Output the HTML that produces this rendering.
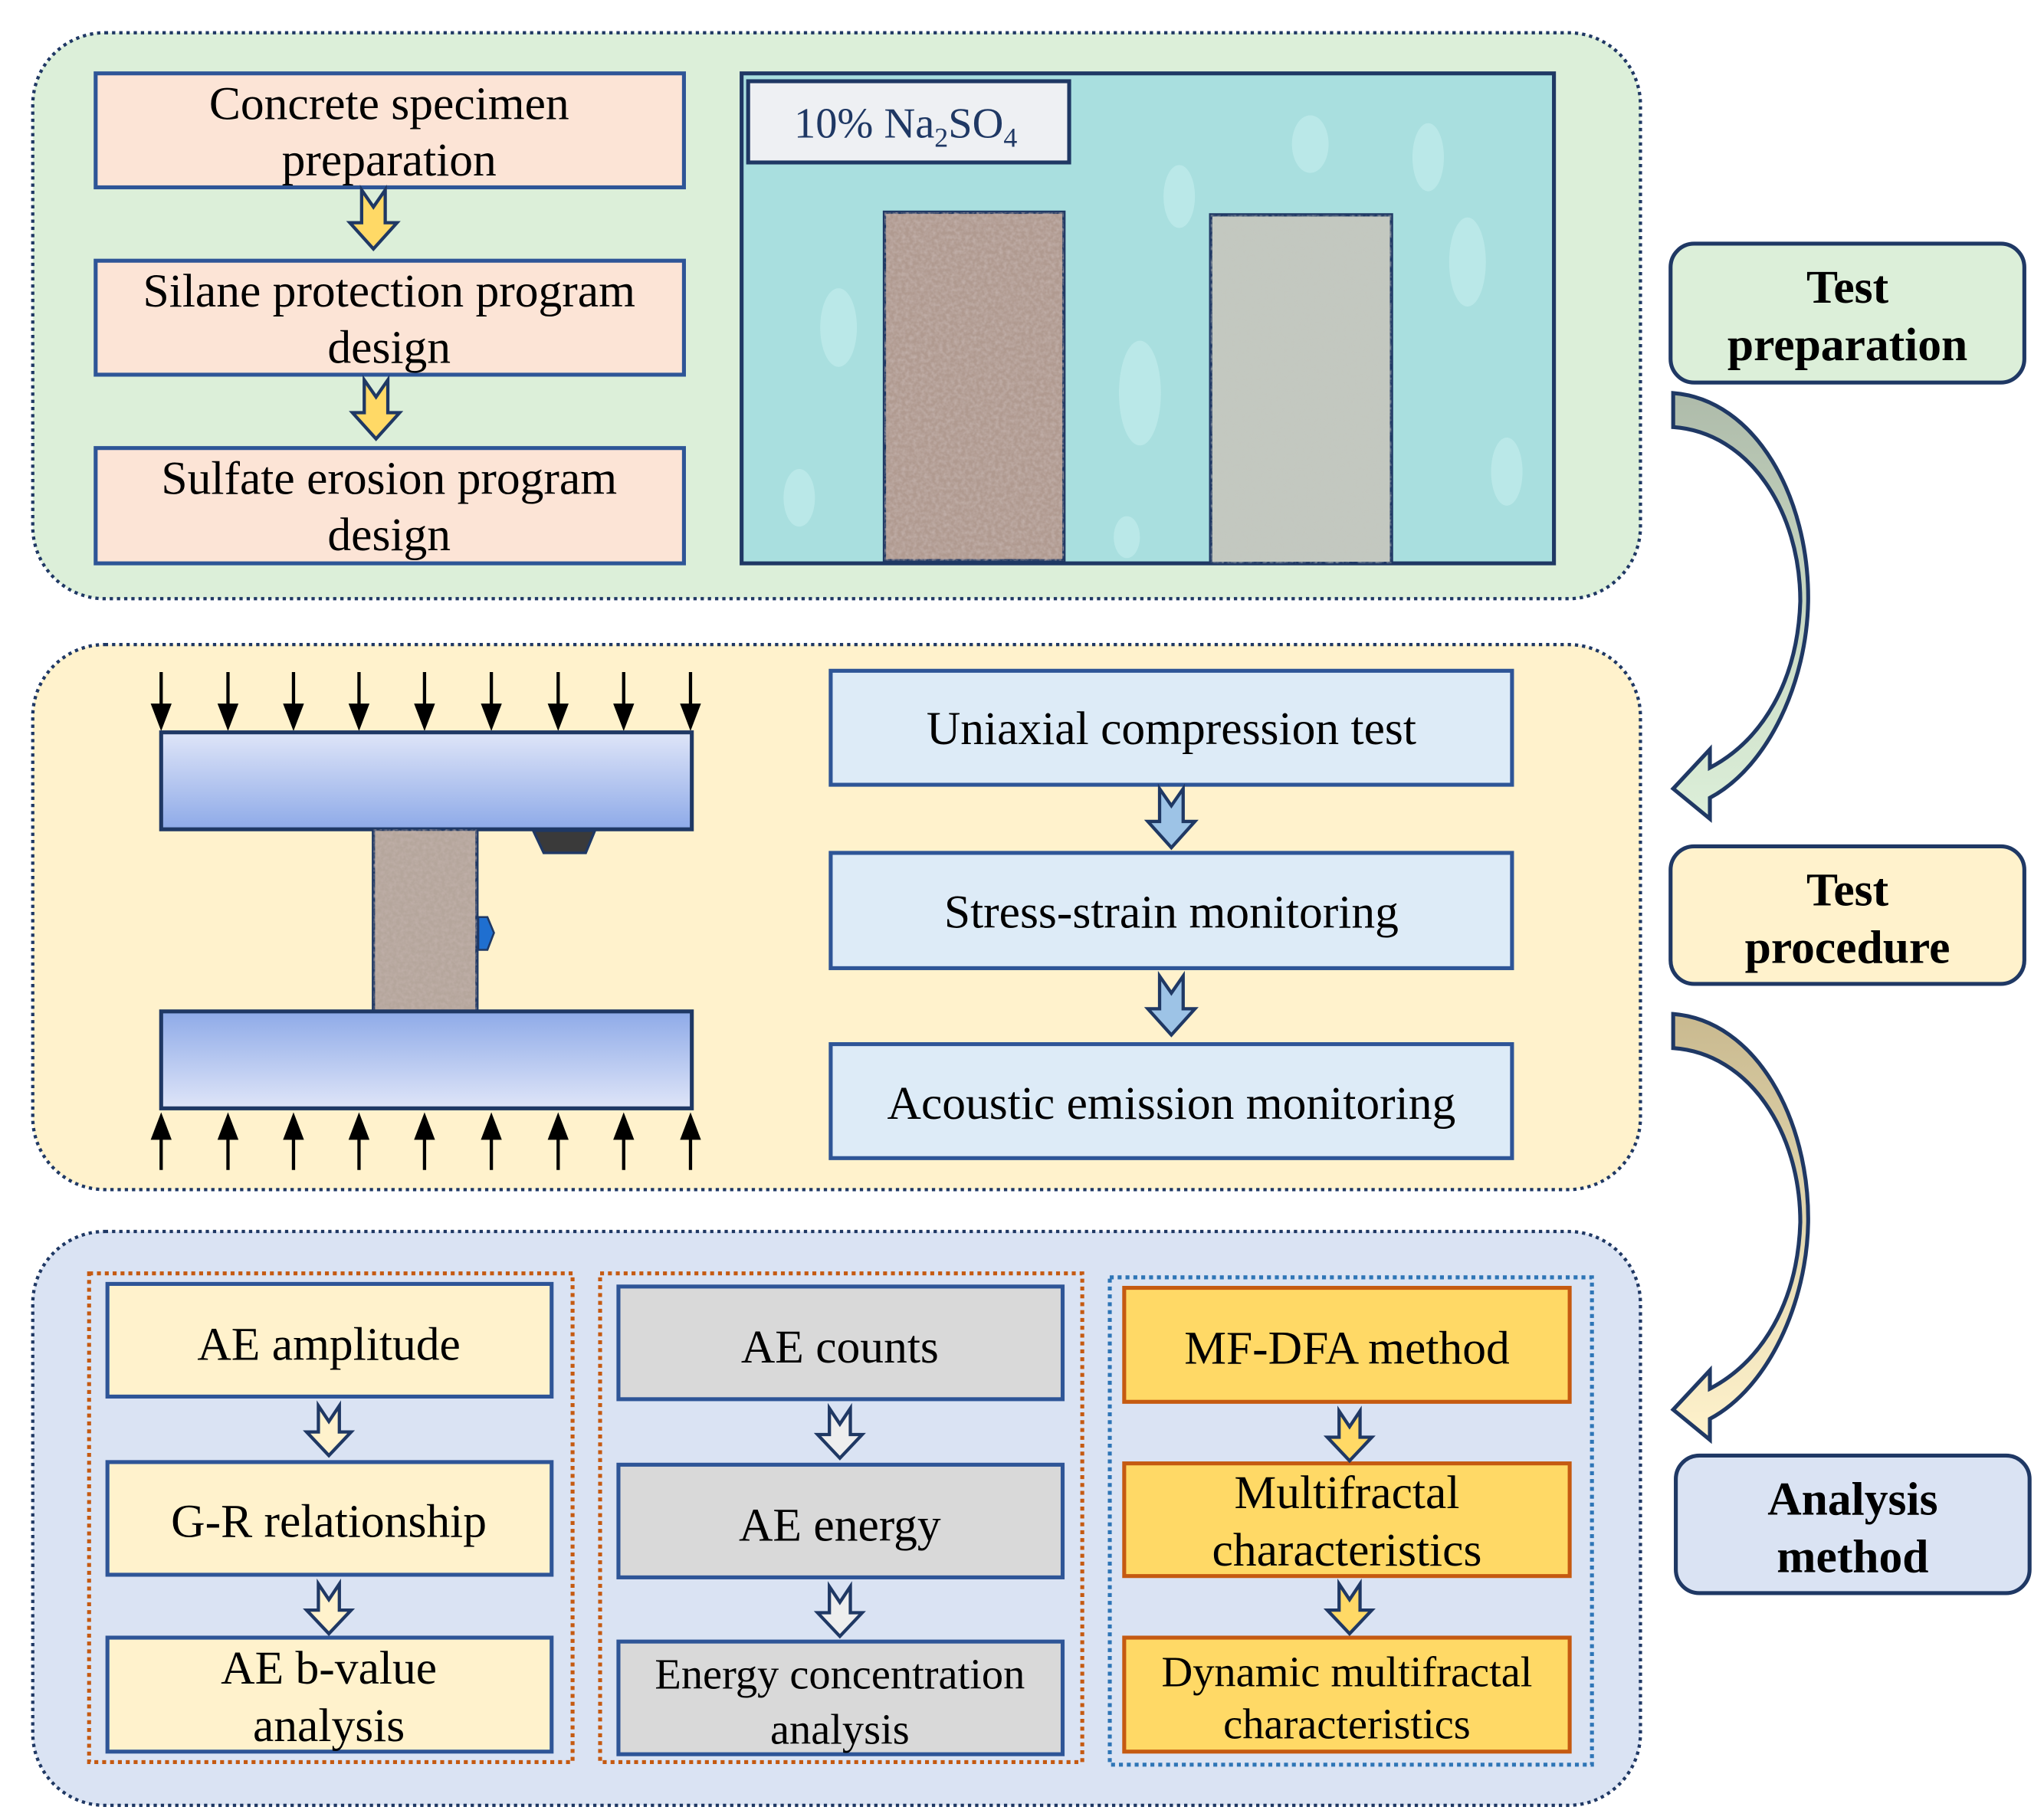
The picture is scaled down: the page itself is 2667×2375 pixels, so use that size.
<!DOCTYPE html>
<html><head><meta charset="utf-8"><style>html,body{margin:0;padding:0;background:#fff}svg{display:block}</style></head>
<body>
<svg width="2667" height="2375" viewBox="0 0 1560 1389.2" preserveAspectRatio="none" xmlns="http://www.w3.org/2000/svg" font-family="Liberation Serif, serif">
<defs>
<linearGradient id="pt" x1="0" y1="0" x2="0" y2="1"><stop offset="0" stop-color="#dfe5f8"/><stop offset="1" stop-color="#8eaae8"/></linearGradient>
<linearGradient id="pb" x1="0" y1="0" x2="0" y2="1"><stop offset="0" stop-color="#8eaae8"/><stop offset="1" stop-color="#dfe5f8"/></linearGradient>
<linearGradient id="ca1" x1="0" y1="0" x2="0" y2="1"><stop offset="0" stop-color="#aebbaa"/><stop offset="0.5" stop-color="#c8d8c2"/><stop offset="1" stop-color="#dcefd9"/></linearGradient>
<linearGradient id="ca2" x1="0" y1="0" x2="0" y2="1"><stop offset="0" stop-color="#c9b98f"/><stop offset="0.5" stop-color="#e3d8b0"/><stop offset="1" stop-color="#fff2cc"/></linearGradient>
<filter id="tex1" x="0" y="0" width="1" height="1"><feTurbulence type="fractalNoise" baseFrequency="0.35" numOctaves="2" seed="3"/><feColorMatrix type="matrix" values="0 0 0 0 0.55  0 0 0 0 0.45  0 0 0 0 0.42  0 0 0 -1.6 1.1"/><feComposite in2="SourceGraphic" operator="in"/></filter>
<filter id="tex2" x="0" y="0" width="1" height="1"><feTurbulence type="fractalNoise" baseFrequency="0.35" numOctaves="2" seed="7"/><feColorMatrix type="matrix" values="0 0 0 0 0.55  0 0 0 0 0.57  0 0 0 0 0.52  0 0 0 -1.6 1.1"/><feComposite in2="SourceGraphic" operator="in"/></filter>
</defs>

<!-- Panel 1 -->
<rect x="25" y="25" width="1227" height="432" rx="55" fill="#dcefd9" stroke="#1f3864" stroke-width="2.5" stroke-dasharray="2.5 3"/>
<g fill="#fce4d6" stroke="#2e5597" stroke-width="3">
<rect x="73" y="56" width="449" height="87"/>
<rect x="73" y="199" width="449" height="87"/>
<rect x="73" y="342" width="449" height="88"/>
</g>
<g font-size="36" text-anchor="middle" fill="#000">
<text x="297" y="91">Concrete specimen</text><text x="297" y="134">preparation</text>
<text x="297" y="234">Silane protection program</text><text x="297" y="277">design</text>
<text x="297" y="377">Sulfate erosion program</text><text x="297" y="420">design</text>
</g>
<g fill="#ffd966" stroke="#1f3864" stroke-width="2.5" stroke-linejoin="miter">
<path d="M276,145 L285,158 L294,145 L294,170 L303,170 L285,190 L267,170 L276,170 Z"/>
<path d="M278,290 L287,303 L296,290 L296,315 L305,315 L287,335 L269,315 L278,315 Z"/>
</g>
<!-- water image -->
<rect x="566" y="56" width="620" height="374" fill="#a9dfdf" stroke="#1f3864" stroke-width="3"/>
<g fill="#c6eeee" opacity="0.6">
<ellipse cx="640" cy="250" rx="14" ry="30"/><ellipse cx="870" cy="300" rx="16" ry="40"/><ellipse cx="1120" cy="200" rx="14" ry="34"/>
<ellipse cx="1150" cy="360" rx="12" ry="26"/><ellipse cx="900" cy="150" rx="12" ry="24"/><ellipse cx="610" cy="380" rx="12" ry="22"/>
<ellipse cx="1000" cy="110" rx="14" ry="22"/><ellipse cx="1090" cy="120" rx="12" ry="26"/><ellipse cx="860" cy="410" rx="10" ry="16"/>
</g>
<rect x="571" y="62" width="245" height="62" fill="#eef0f3" stroke="#1f3864" stroke-width="3"/>
<text x="606" y="105" font-size="33" fill="#1f3864">10% Na<tspan font-size="21" dy="7">2</tspan><tspan dy="-7">SO</tspan><tspan font-size="21" dy="7">4</tspan></text>
<rect x="675" y="162" width="137" height="266" fill="#b09a90" stroke="#1f3864" stroke-width="2.5"/>
<rect x="675" y="162" width="137" height="266" fill="#fff" filter="url(#tex1)" opacity="0.9"/>
<rect x="924" y="164" width="138" height="266" fill="#c3c8c0" stroke="#1f3864" stroke-width="2.5"/>
<rect x="924" y="164" width="138" height="266" fill="#fff" filter="url(#tex2)" opacity="0.7"/>

<!-- Side labels -->
<rect x="1275" y="186" width="270" height="106" rx="18" fill="#dcefd9" stroke="#1f3864" stroke-width="3"/>
<text x="1410" y="231" font-size="36" font-weight="bold" text-anchor="middle">Test</text>
<text x="1410" y="275" font-size="36" font-weight="bold" text-anchor="middle">preparation</text>
<rect x="1275" y="646" width="270" height="105" rx="18" fill="#fff2cc" stroke="#1f3864" stroke-width="3"/>
<text x="1410" y="691" font-size="36" font-weight="bold" text-anchor="middle">Test</text>
<text x="1410" y="735" font-size="36" font-weight="bold" text-anchor="middle">procedure</text>
<rect x="1279" y="1111" width="270" height="105" rx="18" fill="#dae3f3" stroke="#1f3864" stroke-width="3"/>
<text x="1414" y="1156" font-size="36" font-weight="bold" text-anchor="middle">Analysis</text>
<text x="1414" y="1200" font-size="36" font-weight="bold" text-anchor="middle">method</text>

<!-- curved arrows -->
<path d="M1277,300 C1340,305 1381,380 1380,459 C1379,520 1350,585 1305,609 L1305,625 L1277,602 L1305,572 L1305,586 C1345,565 1372,520 1374,459 C1374,390 1335,330 1277,326 Z" fill="url(#ca1)" stroke="#1f3864" stroke-width="3" stroke-linejoin="miter"/>
<path transform="translate(0,474)" d="M1277,300 C1340,305 1381,380 1380,459 C1379,520 1350,585 1305,609 L1305,625 L1277,602 L1305,572 L1305,586 C1345,565 1372,520 1374,459 C1374,390 1335,330 1277,326 Z" fill="url(#ca2)" stroke="#1f3864" stroke-width="3" stroke-linejoin="miter"/>

<!-- Panel 2 -->
<rect x="25" y="492" width="1227" height="416" rx="55" fill="#fff2cc" stroke="#1f3864" stroke-width="2.5" stroke-dasharray="2.5 3"/>
<g stroke="#000" stroke-width="2.5">
<line x1="123" y1="513" x2="123" y2="540"/><line x1="174" y1="513" x2="174" y2="540"/><line x1="224" y1="513" x2="224" y2="540"/>
<line x1="274" y1="513" x2="274" y2="540"/><line x1="324" y1="513" x2="324" y2="540"/><line x1="375" y1="513" x2="375" y2="540"/>
<line x1="426" y1="513" x2="426" y2="540"/><line x1="476" y1="513" x2="476" y2="540"/><line x1="527" y1="513" x2="527" y2="540"/>
<line x1="123" y1="866" x2="123" y2="893"/><line x1="174" y1="866" x2="174" y2="893"/><line x1="224" y1="866" x2="224" y2="893"/>
<line x1="274" y1="866" x2="274" y2="893"/><line x1="324" y1="866" x2="324" y2="893"/><line x1="375" y1="866" x2="375" y2="893"/>
<line x1="426" y1="866" x2="426" y2="893"/><line x1="476" y1="866" x2="476" y2="893"/><line x1="527" y1="866" x2="527" y2="893"/>
</g>
<g fill="#000">
<path d="M115,537 L131,537 L123,558 Z"/><path d="M166,537 L182,537 L174,558 Z"/><path d="M216,537 L232,537 L224,558 Z"/>
<path d="M266,537 L282,537 L274,558 Z"/><path d="M316,537 L332,537 L324,558 Z"/><path d="M367,537 L383,537 L375,558 Z"/>
<path d="M418,537 L434,537 L426,558 Z"/><path d="M468,537 L484,537 L476,558 Z"/><path d="M519,537 L535,537 L527,558 Z"/>
<path d="M115,870 L131,870 L123,849 Z"/><path d="M166,870 L182,870 L174,849 Z"/><path d="M216,870 L232,870 L224,849 Z"/>
<path d="M266,870 L282,870 L274,849 Z"/><path d="M316,870 L332,870 L324,849 Z"/><path d="M367,870 L383,870 L375,849 Z"/>
<path d="M418,870 L434,870 L426,849 Z"/><path d="M468,870 L484,870 L476,849 Z"/><path d="M519,870 L535,870 L527,849 Z"/>
</g>
<rect x="123" y="559" width="405" height="74" fill="url(#pt)" stroke="#1f3864" stroke-width="3"/>
<rect x="285" y="633" width="79" height="139" fill="#b5a69c" stroke="#1f3864" stroke-width="2.5"/>
<rect x="285" y="633" width="79" height="139" fill="#fff" filter="url(#tex1)" opacity="0.8"/>
<rect x="123" y="772" width="405" height="74" fill="url(#pb)" stroke="#1f3864" stroke-width="3"/>
<path d="M407,634 L454,634 L447,651 L415,651 Z" fill="#3a3a3a" stroke="#1f3864" stroke-width="2"/>
<path d="M365,700 L372,700 L377,712 L372,725 L365,725 Z" fill="#1f6fd0" stroke="#1f3864" stroke-width="1.5"/>

<g fill="#ddebf7" stroke="#2e5597" stroke-width="3">
<rect x="634" y="512" width="520" height="87"/>
<rect x="634" y="651" width="520" height="88"/>
<rect x="634" y="797" width="520" height="87"/>
</g>
<g font-size="36" text-anchor="middle">
<text x="894" y="568">Uniaxial compression test</text>
<text x="894" y="708">Stress-strain monitoring</text>
<text x="894" y="854">Acoustic emission monitoring</text>
</g>
<g fill="#9dc3e6" stroke="#1f3864" stroke-width="2.5">
<path d="M885,602 L894,615 L903,602 L903,627 L912,627 L894,647 L876,627 L885,627 Z"/>
<path d="M885,745 L894,758 L903,745 L903,770 L912,770 L894,790 L876,770 L885,770 Z"/>
</g>

<!-- Panel 3 -->
<rect x="25" y="940" width="1227" height="438" rx="55" fill="#dae3f3" stroke="#1f3864" stroke-width="2.5" stroke-dasharray="2.5 3"/>
<rect x="68" y="972" width="369" height="373" fill="none" stroke="#c55a11" stroke-width="3" stroke-dasharray="3 3"/>
<rect x="458" y="972" width="368" height="373" fill="none" stroke="#c55a11" stroke-width="3" stroke-dasharray="3 3"/>
<rect x="847" y="975" width="368" height="372" fill="none" stroke="#2e75b6" stroke-width="3" stroke-dasharray="3 3"/>
<g fill="#fff2cc" stroke="#2e5597" stroke-width="3">
<rect x="82" y="980" width="339" height="86"/><rect x="82" y="1116" width="339" height="86"/><rect x="82" y="1250" width="339" height="87"/>
</g>
<g fill="#d9d9d9" stroke="#2e5597" stroke-width="3">
<rect x="472" y="982" width="339" height="86"/><rect x="472" y="1118" width="339" height="86"/><rect x="472" y="1253" width="339" height="86"/>
</g>
<g fill="#ffd966" stroke="#c55a11" stroke-width="3">
<rect x="858" y="983" width="340" height="87"/><rect x="858" y="1117" width="340" height="86"/><rect x="858" y="1250" width="340" height="87"/>
</g>
<g font-size="36" text-anchor="middle">
<text x="251" y="1038">AE amplitude</text>
<text x="251" y="1173">G-R relationship</text>
<text x="251" y="1285">AE b-value</text><text x="251" y="1329">analysis</text>
<text x="641" y="1040">AE counts</text>
<text x="641" y="1176">AE energy</text>
<text x="641" y="1289" font-size="33">Energy concentration</text><text x="641" y="1331" font-size="33">analysis</text>
<text x="1028" y="1041">MF-DFA method</text>
<text x="1028" y="1151">Multifractal</text><text x="1028" y="1195">characteristics</text>
<text x="1028" y="1287" font-size="33">Dynamic multifractal</text><text x="1028" y="1327" font-size="33">characteristics</text>
</g>
<g fill="#fff2cc" stroke="#1f3864" stroke-width="2.5">
<path d="M243,1073 L251,1085 L259,1073 L259,1093 L268,1093 L251,1111 L234,1093 L243,1093 Z"/>
<path d="M243,1209 L251,1221 L259,1209 L259,1229 L268,1229 L251,1247 L234,1229 L243,1229 Z"/>
</g>
<g fill="#eeeeee" stroke="#1f3864" stroke-width="2.5">
<path d="M633,1075 L641,1087 L649,1075 L649,1095 L658,1095 L641,1113 L624,1095 L633,1095 Z"/>
<path d="M633,1211 L641,1223 L649,1211 L649,1231 L658,1231 L641,1249 L624,1231 L633,1231 Z"/>
</g>
<g fill="#ffd966" stroke="#1f3864" stroke-width="2.5">
<path d="M1022,1077 L1030,1089 L1038,1077 L1038,1097 L1047,1097 L1030,1115 L1013,1097 L1022,1097 Z"/>
<path d="M1022,1209 L1030,1221 L1038,1209 L1038,1229 L1047,1229 L1030,1247 L1013,1229 L1022,1229 Z"/>
</g>
</svg>
</body></html>
